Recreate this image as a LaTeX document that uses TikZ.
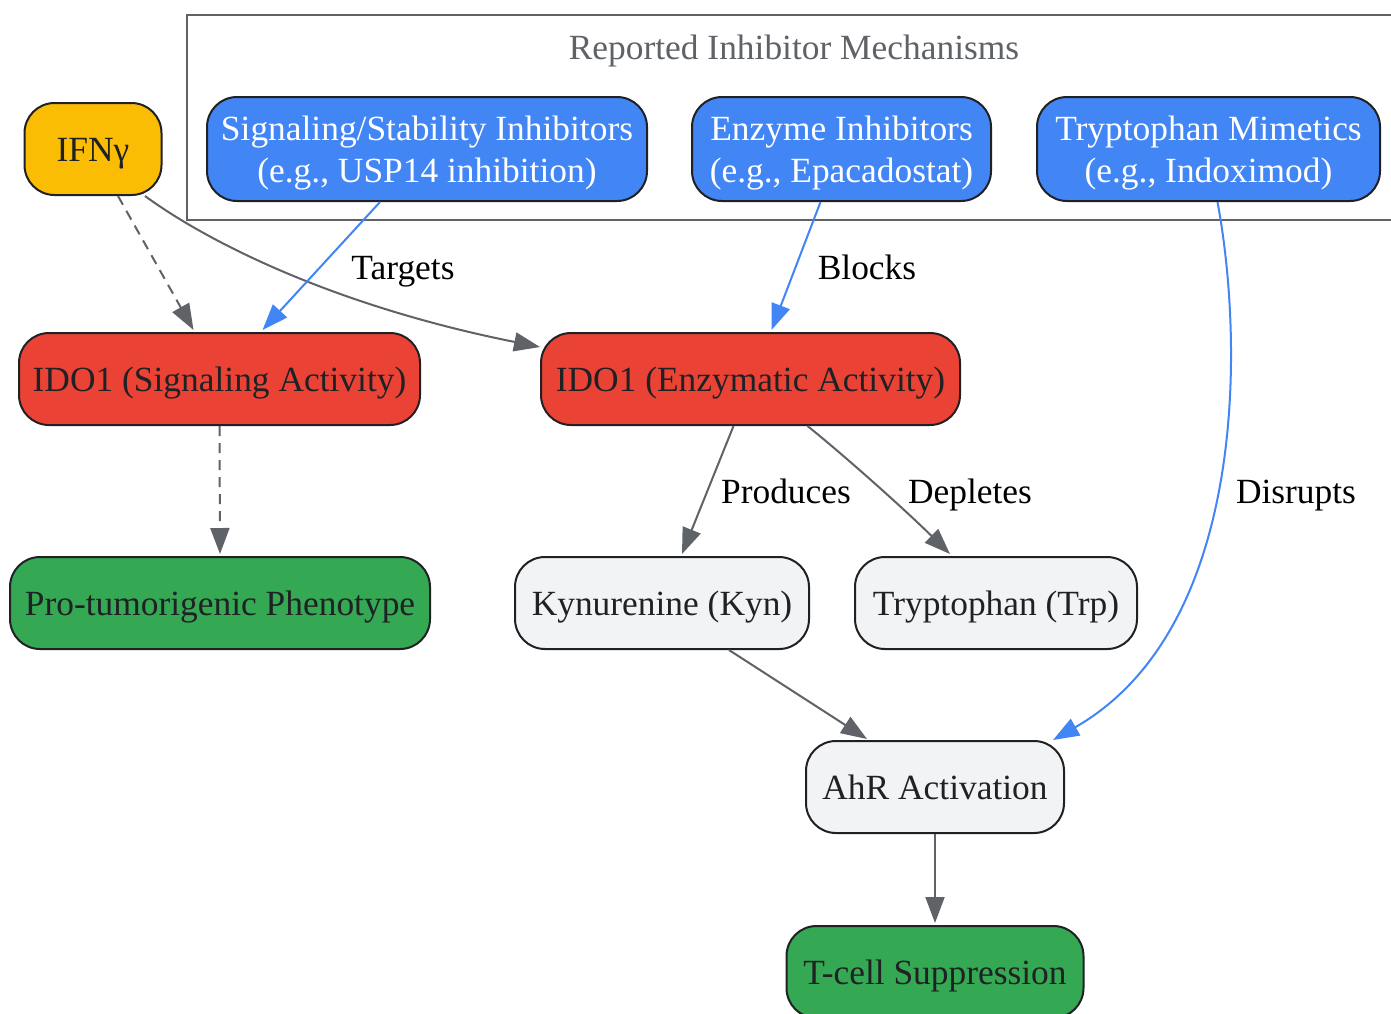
\documentclass[tikz,border=0pt]{standalone}
\usepackage{fontspec}
\setmainfont{Liberation Serif}
\usetikzlibrary{arrows.meta,calc}
\definecolor{cyellow}{HTML}{FBBC04}
\definecolor{cred}{HTML}{EA4335}
\definecolor{cgreen}{HTML}{34A853}
\definecolor{clight}{HTML}{F1F3F4}
\definecolor{cblue}{HTML}{4285F4}
\definecolor{cdark}{HTML}{202124}
\definecolor{cgray}{HTML}{5F6368}
\tikzset{
  struts/.style={execute at begin node={\rule{0pt}{16.7pt}}, execute at end node={\rule[-4pt]{0pt}{4pt}}},
  box/.style={draw=cdark, line width=1pt, rounded corners=15pt, minimum height=46pt,
    inner sep=0pt, align=center, text=cdark, font=\fontsize{17.7}{21}\selectfont, struts},
  twoline/.style={minimum height=52pt, text height=37.7pt, text depth=4pt},
  wtext/.style={text=white},
  lbl/.style={font=\fontsize{17.7}{21}\selectfont, text=black, inner sep=0pt, struts},
  edge/.style={draw=cgray, line width=1pt, -{Triangle[length=13pt,width=9.5pt]}},
  bedge/.style={draw=cblue, line width=1pt, -{Triangle[length=13pt,width=9.5pt]}},
  dedge/.style={edge, dash pattern=on 5pt off 3.5pt}
}
\begin{document}
\begin{tikzpicture}[x=0.5pt,y=-0.5pt]
\useasboundingbox (0,0) rectangle (1391,1013);
\clip (0,0) rectangle (1391,1013);
\fill[white] (0,0) rectangle (1391,1013);
% cluster
\draw[cgray, line width=1pt] (1400,15) -- (187,15) -- (187,220) -- (1400,220);
\node[lbl, text=cgray] (ctitle) at (794,46.6) {Reported Inhibitor Mechanisms};
% nodes
\node[box, fill=cyellow, minimum width=68.5pt] (ifn) at (93,149) {IFNγ};
\node[box, twoline, fill=cblue, wtext, minimum width=220pt] (sinh) at (427,149) {Signaling/Stability Inhibitors\\(e.g., USP14 inhibition)};
\node[box, twoline, fill=cblue, wtext, minimum width=149.5pt] (einh) at (841.5,149) {Enzyme Inhibitors\\(e.g., Epacadostat)};
\node[box, twoline, fill=cblue, wtext, minimum width=171.5pt] (tmim) at (1208.5,149) {Tryptophan Mimetics\\(e.g., Indoximod)};
\node[box, fill=cred, minimum width=200.5pt] (idos) at (219.5,379) {IDO1 (Signaling Activity)};
\node[box, fill=cred, minimum width=209.5pt] (idoe) at (750.5,379) {IDO1 (Enzymatic Activity)};
\node[box, fill=cgreen, minimum width=210pt] (pro) at (220,603) {Pro-tumorigenic Phenotype};
\node[box, fill=clight, minimum width=147pt] (kyn) at (662,603) {Kynurenine (Kyn)};
\node[box, fill=clight, minimum width=141pt] (trp) at (996,603) {Tryptophan (Trp)};
\node[box, fill=clight, minimum width=129pt] (ahr) at (935,787) {AhR Activation};
\node[box, fill=cgreen, minimum width=148.5pt] (tcell) at (935,972) {T-cell Suppression};
% edges
\draw[dedge] ($(ifn.south)+(25,0)$) -- ($(idos.north)+(-26,-2)$);
\draw[edge] ($(ifn.south)+(52,0)$) .. controls (205,240) and (330,305) .. ($(idoe.west)+(0,-32)$);
\draw[bedge] ($(sinh.south)+(-47,0)$) -- ($(idos.north)+(43,-2)$);
\draw[bedge] ($(einh.south)+(-21,0)$) -- ($(idoe.north)+(21,-2)$);
\draw[dedge] (idos.south) -- ($(pro.north)+(0,-2)$);
\draw[edge] ($(idoe.south)+(-17,0)$) -- ($(kyn.north)+(20,-2)$);
\draw[edge] ($(idoe.south)+(57,0)$) .. controls (840,452) and (900,505) .. ($(trp.north)+(-46,-2)$);
\draw[bedge] ($(tmim.south)+(9,0)$) .. controls (1245,350) and (1245,630) .. ($(ahr.north)+(118,0)$);
\draw[edge] ($(kyn.south)+(67,0)$) -- ($(ahr.north)+(-68,-1)$);
\draw[edge] (ahr.south) -- ($(tcell.north)+(0,-2)$);
% labels
\node[lbl] (ltargets) at (403,267) {Targets};
\node[lbl] (lblocks) at (867,267) {Blocks};
\node[lbl] (lproduces) at (786,490.5) {Produces};
\node[lbl] (ldepletes) at (970,490.5) {Depletes};
\node[lbl] (ldisrupts) at (1296,490.5) {Disrupts};
\end{tikzpicture}
\end{document}
